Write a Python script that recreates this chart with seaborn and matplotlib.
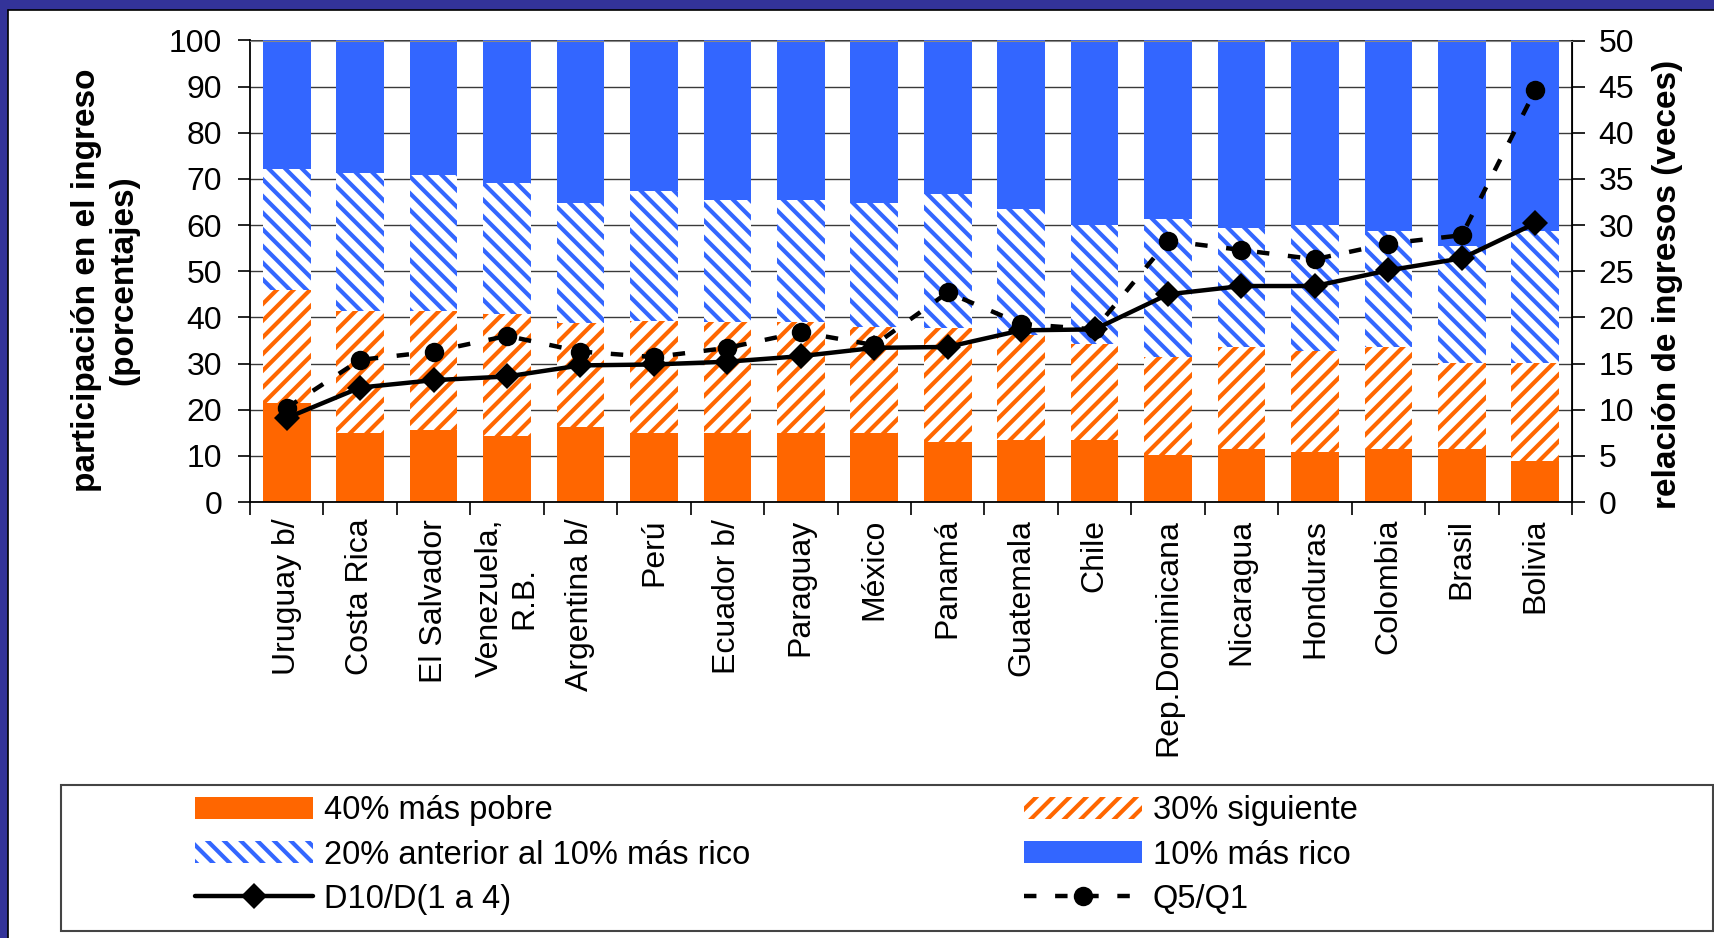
import numpy as np
import matplotlib
matplotlib.use("Agg")
import matplotlib.pyplot as plt
from matplotlib.patches import Patch, Rectangle
from matplotlib.lines import Line2D
import seaborn as sns

# ---------------- data ----------------
countries = ["Uruguay b/", "Costa Rica", "El Salvador", "Venezuela,\nR.B.", "Argentina b/",
             "Perú", "Ecuador b/", "Paraguay", "México", "Panamá", "Guatemala", "Chile",
             "Rep.Dominicana", "Nicaragua", "Honduras", "Colombia", "Brasil", "Bolivia"]
poor40 = [21.5, 14.9, 15.6, 14.3, 16.2, 14.9, 14.9, 14.9, 14.9, 13.0, 13.4, 13.4, 10.1, 11.4, 10.9, 11.4, 11.4, 8.8]
next30 = [24.5, 26.5, 25.8, 26.4, 22.6, 24.4, 24.0, 24.0, 23.1, 24.6, 22.8, 20.8, 21.3, 22.1, 21.9, 22.1, 18.8, 21.4]
next20 = [26.1, 29.8, 29.4, 28.5, 26.0, 28.0, 26.5, 26.5, 26.8, 29.1, 27.2, 25.9, 30.0, 25.9, 27.3, 25.2, 25.2, 28.5]
rich10 = [27.9, 28.8, 29.2, 30.8, 35.2, 32.7, 34.6, 34.6, 35.2, 33.3, 36.6, 39.9, 38.6, 40.6, 39.9, 41.3, 44.6, 41.3]
d10_d14 = [9.1, 12.4, 13.2, 13.6, 14.8, 14.9, 15.2, 15.8, 16.7, 16.8, 18.6, 18.7, 22.5, 23.4, 23.4, 25.1, 26.4, 30.2]
q5_q1 = [10.2, 15.4, 16.3, 18.0, 16.3, 15.7, 16.7, 18.4, 17.0, 22.7, 19.3, 18.7, 28.3, 27.3, 26.3, 28.0, 28.9, 44.6]

left_ticks = [0, 10, 20, 30, 40, 50, 60, 70, 80, 90, 100]
right_ticks = [0, 5, 10, 15, 20, 25, 30, 35, 40, 45, 50]

labels_legend = ["40% más pobre", "30% siguiente", "20% anterior al 10% más rico",
                 "10% más rico", "D10/D(1 a 4)", "Q5/Q1"]

# ---------------- style ----------------
sns.set_style("ticks", rc={"axes.edgecolor": "black", "text.color": "black",
                           "axes.labelcolor": "black", "xtick.color": "black",
                           "ytick.color": "black"})
plt.rcParams["font.family"] = ["Liberation Sans", "DejaVu Sans"]
plt.rcParams["hatch.linewidth"] = 3.0

ORANGE = "#FF6600"
BLUE = "#3366FF"
NAVY = "#333399"
W, H = 1715, 938
n = len(countries)
LW = 3.2
DASH = (0, (2.8, 4.2))

fig = plt.figure(figsize=(W / 100, H / 100), dpi=100)
fig.patch.set_facecolor("white")
ax = fig.add_axes([250 / W, 1 - 502 / H, (1572 - 250) / W, (502 - 40.5) / H])

bw = 0.65
common = dict(saturation=1, width=bw, linewidth=0, errorbar=None, ax=ax)
bottom = np.zeros(n)
sns.barplot(x=countries, y=poor40, color=ORANGE, bottom=bottom, **common)
bottom = bottom + np.array(poor40)
sns.barplot(x=countries, y=next30, color="white", edgecolor=ORANGE, hatch="//", bottom=bottom, **common)
bottom = bottom + np.array(next30)
sns.barplot(x=countries, y=next20, color="white", edgecolor=BLUE, hatch="\\\\", bottom=bottom, **common)
bottom = bottom + np.array(next20)
sns.barplot(x=countries, y=rich10, color=BLUE, bottom=bottom, **common)

ax.set_ylim(0, 100)
ax.set_yticks(left_ticks)
ax.yaxis.grid(True, color="#3a3a3a", lw=1.0)
ax.set_axisbelow(True)
ax.set_xlabel("")
ax.set_ylabel("")
ax.spines["top"].set_visible(False)

# lines on secondary axis
ax2 = ax.twinx()
xpos = np.arange(n)
sns.lineplot(x=xpos, y=q5_q1, ax=ax2, color="black", lw=LW, linestyle=DASH,
             marker="o", markersize=14, markeredgewidth=0)
sns.lineplot(x=xpos, y=d10_d14, ax=ax2, color="black", lw=LW,
             marker="D", markersize=13, markeredgewidth=0)
ax2.set_ylim(0, 50)
ax2.set_yticks(right_ticks)
ax2.set_ylabel("")
ax2.spines["top"].set_color("#888888")
ax2.spines["left"].set_visible(False)
ax2.spines["bottom"].set_visible(False)
ax2.spines["right"].set_color("black")
ax.set_xlim(-0.5, n - 0.5)

# ticks
ax.set_xticks(range(n))
ax.set_xticklabels(countries, rotation=90, ha="center", va="top", multialignment="center", fontsize=23)
ax.set_xticks(np.arange(-0.5, n, 1.0), minor=True)
ax.tick_params(axis="x", which="major", length=0, pad=12)
ax.tick_params(axis="x", which="minor", length=9, width=1.2, direction="out")
ax.tick_params(axis="y", direction="out", length=9, width=1.2, pad=11, labelsize=23)
ax2.tick_params(axis="y", direction="out", length=9, width=1.2, pad=10, labelsize=23)
for sp in ["left", "bottom"]:
    ax.spines[sp].set_linewidth(1.3)
ax2.spines["right"].set_linewidth(1.3)

# axis titles
fig.text(105 / W, 1 - 280 / H, "participación en el ingreso\n(porcentajes)", rotation=90,
         ha="center", va="center", multialignment="center", fontsize=24, fontweight="bold",
         linespacing=1.25)
fig.text(1668 / W, 1 - 284 / H, "relación de ingresos (veces)", rotation=90,
         ha="center", va="center", fontsize=24, fontweight="bold")

# legend
h_poor = Patch(facecolor=ORANGE, edgecolor=ORANGE, lw=0)
h_next30 = Patch(facecolor="white", edgecolor=ORANGE, hatch="//", lw=0)
h_next20 = Patch(facecolor="white", edgecolor=BLUE, hatch="\\\\", lw=0)
h_rich = Patch(facecolor=BLUE, edgecolor=BLUE, lw=0)
h_d10 = Line2D([], [], color="black", lw=LW, marker="D", markersize=13, markeredgewidth=0)
h_q5 = Line2D([], [], color="black", lw=LW, linestyle=DASH, marker="o",
              markersize=14, markeredgewidth=0)

leg_kw = dict(loc="center left", frameon=False, fontsize=23.5, handlelength=3.6,
              handleheight=0.65, handletextpad=0.35, labelspacing=0.40,
              borderpad=0, borderaxespad=0, numpoints=1)
leg1 = fig.legend(handles=[h_poor, h_next20, h_d10],
                  labels=[labels_legend[0], labels_legend[2], labels_legend[4]],
                  bbox_to_anchor=(195 / W, 1 - 855 / H), **leg_kw)
leg2 = fig.legend(handles=[h_next30, h_rich, h_q5],
                  labels=[labels_legend[1], labels_legend[3], labels_legend[5]],
                  bbox_to_anchor=(1024 / W, 1 - 855 / H), **leg_kw)

fig.add_artist(Rectangle((61 / W, 1 - 931 / H), (1713 - 61) / W, (931 - 785) / H,
                         transform=fig.transFigure, fill=False, edgecolor="#444444", lw=1.5))

# navy frame
fig.add_artist(Rectangle((0, 1 - 10 / H), 1, 10 / H, transform=fig.transFigure,
                         facecolor=NAVY, lw=0))
fig.add_artist(Rectangle((0, 0), 8 / W, 1, transform=fig.transFigure, facecolor=NAVY, lw=0))
fig.add_artist(Line2D([8 / W, 1], [1 - 10.5 / H, 1 - 10.5 / H], transform=fig.transFigure,
                      color="black", lw=1.2))
fig.add_artist(Line2D([8.5 / W, 8.5 / W], [0, 1 - 10 / H], transform=fig.transFigure,
                      color="black", lw=1.2))

fig.savefig("out.png", dpi=100)
